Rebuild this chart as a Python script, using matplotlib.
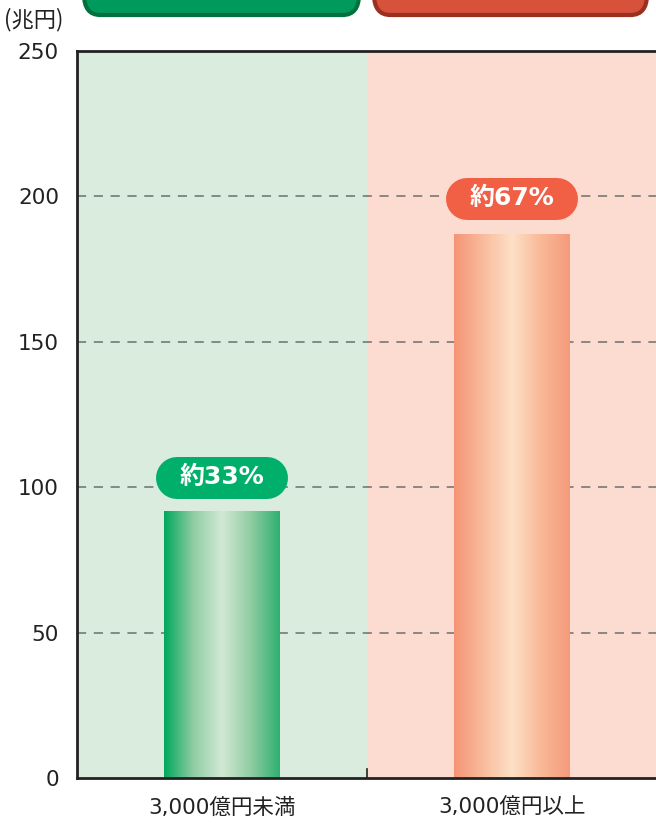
import numpy as np
import matplotlib
matplotlib.use("Agg")
from matplotlib import pyplot as plt
from matplotlib.colors import LinearSegmentedColormap
from matplotlib.patches import FancyBboxPatch
from matplotlib.lines import Line2D
from matplotlib.transforms import IdentityTransform

plt.rcParams['font.family'] = ['DejaVu Sans', 'Noto Sans CJK JP']

categories = ['3,000億円未満', '3,000億円以上']
values = [91.5, 187.0]
shares = ['約33%', '約67%']
pill_y = [103, 199]
yticks = [0, 50, 100, 150, 200, 250]

bg_colors = ['#d9ecdd', '#fcdcd0']
pill_colors = ['#00b06a', '#f15f45']
bar_cmaps = [
    LinearSegmentedColormap.from_list('g', ['#00a85e', '#8fcca3', '#d2e9d5', '#90cca2', '#2fb070']),
    LinearSegmentedColormap.from_list('r', ['#f59476', '#f9bb9c', '#fde0c6', '#f9b998', '#f59a7c']),
]

fig = plt.figure(figsize=(6.56, 8.23), dpi=100)
ax = fig.add_axes([77 / 656, 45 / 823, 580 / 656, 727 / 823])
ax.set_xlim(-0.5, 1.5)
ax.set_ylim(0, 250)

# background halves
for i, c in enumerate(bg_colors):
    ax.axvspan(i - 0.5, i + 0.5, color=c, zorder=0, lw=0)

# grid
for y in yticks[1:-1]:
    ax.axhline(y, color='#6e6e6e', lw=1.1, ls=(0, (6, 5)), zorder=1)

# gradient bars
bw = 0.40
grad = np.linspace(0, 1, 256).reshape(1, -1)
for i, v in enumerate(values):
    ax.imshow(grad, cmap=bar_cmaps[i], aspect='auto',
              extent=(i - bw / 2, i + bw / 2, 0, v), zorder=2, interpolation='bicubic')

# share pills: a thick line with round caps gives true half-circle ends
pw, ph = 132, 42
for i, s in enumerate(shares):
    cx, cy = ax.transData.transform((i, pill_y[i]))
    half = (pw - ph) / 2
    pill = Line2D([cx - half, cx + half], [cy, cy], transform=IdentityTransform(),
                  color=pill_colors[i], lw=ph * 72 / 100, solid_capstyle='round', zorder=3)
    fig.lines.append(pill)
    fig.text(cx / 656, (cy + 1) / 823, s, ha='center', va='center', color='white',
             fontsize=18, fontweight='bold', zorder=4)

ax.set_yticks(yticks)
ax.set_yticklabels([str(t) for t in yticks], fontsize=15.5, color='#222222')
ax.set_xticks([0, 1])
ax.set_xticklabels(categories, fontsize=15.5, color='#222222')
ax.tick_params(axis='x', length=0, pad=14)
ax.tick_params(axis='y', length=0, pad=13)
ax.axvline(0.5, ymin=0, ymax=0.012, color='#222222', lw=1.2, zorder=5)

for side in ['left', 'bottom', 'top']:
    ax.spines[side].set_color('#222222')
    ax.spines[side].set_linewidth(2)
ax.spines['right'].set_visible(False)

fig.text(4 / 656, 1 - 20 / 823, '(兆円)', fontsize=16, color='#222222', va='center',
         family=['Noto Sans CJK JP', 'DejaVu Sans'])

# header boxes cut off at top
for x0, x1, fc, ec in [(84, 359, '#009a5c', '#00703f'), (374, 647, '#d6523a', '#9a3020')]:
    box = FancyBboxPatch((x0 / 656, 1 - 15 / 823), (x1 - x0) / 656, 40 / 823,
                         boxstyle='round,pad=0,rounding_size=0.025',
                         transform=fig.transFigure, fc=fc, ec=ec, lw=3, clip_on=False)
    fig.patches.append(box)

fig.savefig('out.png', dpi=100)
